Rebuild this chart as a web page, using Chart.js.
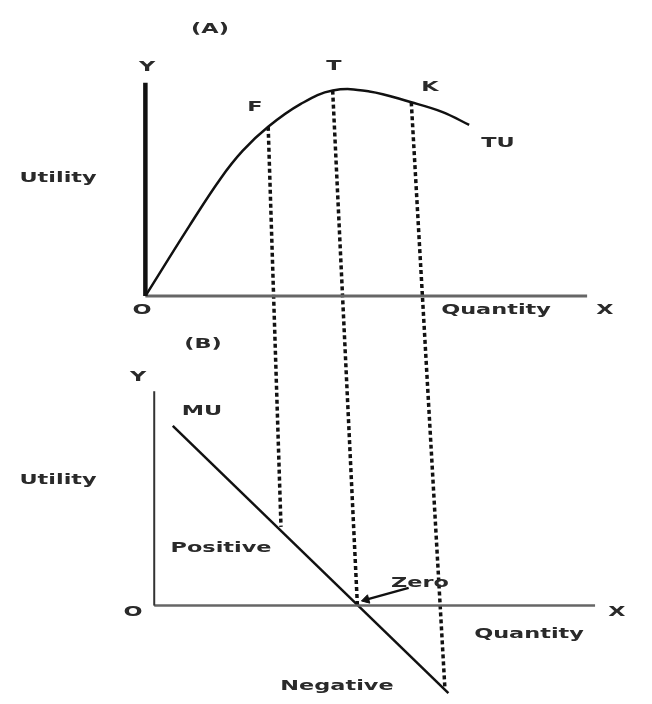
<!DOCTYPE html>
<html><head><meta charset="utf-8">
<script src="https://cdn.jsdelivr.net/npm/chart.js@4"></script>
<style>html,body{margin:0;padding:0;background:#fff;}canvas{display:block;}</style>
</head><body>
<canvas id="c" width="652" height="704"></canvas>
<script>
// ---------- data (in panel units) ----------
const tuQuantity = [0, 1.00, 1.70, 2.20, 2.78, 3.51, 4.24, 5.07, 6.02, 6.73, 7.33];
const tuUtility  = [0, 3.30, 5.50, 6.80, 7.93, 8.99, 9.63, 9.59, 9.08, 8.62, 8.02];
const muQuantity = [0.42, 6.66];
const muUtility  = [8.43, -4.10];
const dropNames     = ['F', 'T', 'K'];
const dropQuantityA = [2.78, 4.24, 6.02];
const dropUtilityA  = [7.93, 9.63, 9.08];
const dropQuantityB = [2.87, 4.60, 6.58];
const dropUtilityB  = [3.69, 0.00, -3.85];
const axisQuantityA = 10.0, axisUtilityA = 10.0;
const axisQuantityB = 9.98, axisUtilityB = 10.05;
const zeroArrowQuantity = [5.76, 4.80];
const zeroArrowUtility  = [0.83, 0.28];

// ---------- layout ----------
const W = 652, H = 704;
const panelA = { x0: 142, y0: 295, ux: 45, uy: 21.7 };
const panelB = { x0: 151, y0: 610, ux: 45, uy: 21.7 };
function xRange(p){ return { min: -p.x0 / p.ux, max: (W - p.x0) / p.ux }; }
function yRange(p){ return { min: -(H - p.y0) / p.uy, max: p.y0 / p.uy }; }
function bToA(q, u){
  return { x: (panelB.x0 + q * panelB.ux - panelA.x0) / panelA.ux,
           y: (panelA.y0 - (panelB.y0 - u * panelB.uy)) / panelA.uy };
}
const textLabels = [
  {t:'(A)', x:210, y:29}, {t:'Y', x:147, y:67}, {t:'T', x:334, y:66}, {t:'K', x:430, y:87},
  {t:'F', x:255, y:107}, {t:'TU', x:498, y:143}, {t:'Utility', x:58, y:178},
  {t:'O', x:142, y:310}, {t:'Quantity', x:496, y:310}, {t:'X', x:605, y:310},
  {t:'(B)', x:203, y:344}, {t:'Y', x:138, y:377}, {t:'MU', x:202, y:411},
  {t:'Utility', x:58, y:480}, {t:'Positive', x:221, y:548}, {t:'Zero', x:420, y:583},
  {t:'O', x:133, y:612}, {t:'X', x:617, y:612}, {t:'Quantity', x:529, y:634},
  {t:'Negative', x:337, y:686}
];

const pts = (xs, ys) => xs.map((x, i) => ({ x, y: ys[i] }));
const base = { showLine: true, pointRadius: 0, fill: false, clip: false, borderCapStyle: 'butt' };

const datasets = [
  Object.assign({}, base, { data: pts([0,0],[0,axisUtilityA]), xAxisID:'xA', yAxisID:'yA', borderColor:'#111', borderWidth:4.5 }),
  Object.assign({}, base, { data: pts([0,axisQuantityA],[0,0]), xAxisID:'xA', yAxisID:'yA', borderColor:'#666', borderWidth:3 }),
  Object.assign({}, base, { data: pts(tuQuantity, tuUtility), xAxisID:'xA', yAxisID:'yA', borderColor:'#111', borderWidth:2.5, tension:0.4 }),
  Object.assign({}, base, { data: pts([0,0],[0,axisUtilityB]), xAxisID:'xB', yAxisID:'yB', borderColor:'#333', borderWidth:2 }),
  Object.assign({}, base, { data: pts([0,axisQuantityB],[0,0]), xAxisID:'xB', yAxisID:'yB', borderColor:'#666', borderWidth:2.5 }),
  Object.assign({}, base, { data: pts(muQuantity, muUtility), xAxisID:'xB', yAxisID:'yB', borderColor:'#111', borderWidth:2.5 })
];
dropNames.forEach((n, i) => {
  datasets.push(Object.assign({}, base, {
    label: n,
    data: [{ x: dropQuantityA[i], y: dropUtilityA[i] }, bToA(dropQuantityB[i], dropUtilityB[i])],
    xAxisID:'xA', yAxisID:'yA', borderColor:'#111', borderWidth:3.5, borderDash:[4,3]
  }));
});
const adx = (zeroArrowQuantity[1] - zeroArrowQuantity[0]) * panelB.ux;
const ady = -(zeroArrowUtility[1] - zeroArrowUtility[0]) * panelB.uy;
const arrowRot = Math.atan2(adx, -ady) * 180 / Math.PI;
datasets.push(Object.assign({}, base, {
  data: pts(zeroArrowQuantity, zeroArrowUtility), xAxisID:'xB', yAxisID:'yB',
  borderColor:'#111', borderWidth:2.5, pointRadius:[0,5], pointStyle:'triangle',
  rotation:[0, arrowRot], pointBackgroundColor:'#111', pointBorderColor:'#111', pointBorderWidth:1
}));

const textPlugin = {
  id: 'texts',
  afterDatasetsDraw(chart){
    const ctx = chart.ctx;
    ctx.save();
    ctx.fillStyle = '#2a2a2a';
    ctx.font = 'bold 14px "DejaVu Sans"';
    ctx.textAlign = 'center';
    ctx.textBaseline = 'middle';
    textLabels.forEach(l => {
      ctx.save();
      ctx.translate(l.x, l.y);
      ctx.scale(1.6, 1);
      ctx.fillText(l.t, 0, 0);
      ctx.restore();
    });
    ctx.restore();
  }
};

const hidden = r => Object.assign({ type:'linear', display:false }, r);
new Chart(document.getElementById('c'), {
  type: 'scatter',
  data: { datasets },
  options: {
    responsive: false, animation: false, devicePixelRatio: 1, events: [],
    layout: { padding: 0 },
    plugins: { legend: { display:false }, tooltip: { enabled:false } },
    scales: {
      xA: hidden(xRange(panelA)), yA: hidden(yRange(panelA)),
      xB: hidden(xRange(panelB)), yB: hidden(yRange(panelB))
    }
  },
  plugins: [textPlugin]
});
</script>
</body></html>
